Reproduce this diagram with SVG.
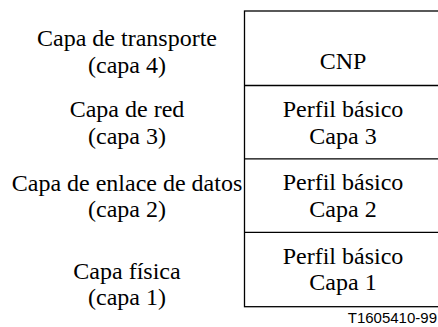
<svg xmlns="http://www.w3.org/2000/svg" width="438" height="327" viewBox="0 0 438 327">
<style>
.t{font-family:"Liberation Serif","Times New Roman",serif;font-size:24px;fill:#000;text-anchor:middle}
.ln{fill:none;stroke:#000;stroke-width:1.3}
.id{font-family:"Liberation Sans",Arial,sans-serif;font-size:15px;fill:#000;text-anchor:end}
</style>
<rect width="438" height="327" fill="#fff"/>
<g id="frame">
<rect class="ln" x="244.5" y="11" width="210" height="295.7"/>
<line class="ln" x1="244.5" y1="85.5" x2="440" y2="85.5"/>
<line class="ln" x1="244.5" y1="158.8" x2="440" y2="158.8"/>
<line class="ln" x1="244.5" y1="232.3" x2="440" y2="232.3"/>
</g>
<g id="capa4">
<text class="t" x="127" y="46">Capa de transporte</text>
<text class="t" x="127" y="72.5">(capa 4)</text>
</g>
<g id="capa3">
<text class="t" x="127" y="117">Capa de red</text>
<text class="t" x="127" y="143.5">(capa 3)</text>
</g>
<g id="capa2">
<text class="t" x="127" y="191">Capa de enlace de datos</text>
<text class="t" x="127" y="217">(capa 2)</text>
</g>
<g id="capa1">
<text class="t" x="127" y="279">Capa física</text>
<text class="t" x="127" y="304.5">(capa 1)</text>
</g>
<g id="cnp">
<text class="t" x="343" y="69">CNP</text>
</g>
<g id="perfil3">
<text class="t" x="343" y="117">Perfil básico</text>
<text class="t" x="343" y="143.5">Capa 3</text>
</g>
<g id="perfil2">
<text class="t" x="343" y="190">Perfil básico</text>
<text class="t" x="343" y="216.5">Capa 2</text>
</g>
<g id="perfil1">
<text class="t" x="343" y="263.5">Perfil básico</text>
<text class="t" x="343" y="290">Capa 1</text>
</g>
<g id="connectors"/>
<text class="id" x="437" y="323">T1605410-99</text>
</svg>
